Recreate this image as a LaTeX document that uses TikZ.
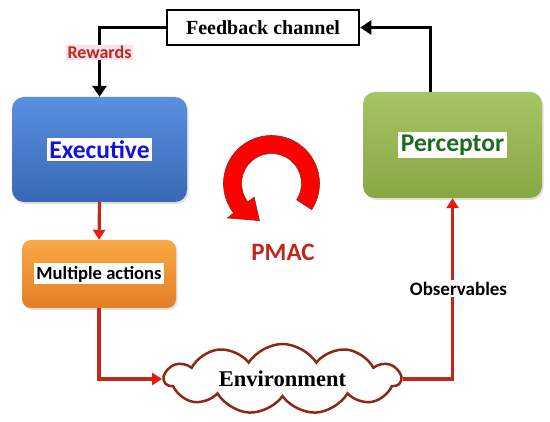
\documentclass[tikz,border=0pt]{standalone}
\usepackage{fontspec}
\setmainfont{Liberation Serif}
\newfontfamily\carlito{Carlito}
\usetikzlibrary{arrows.meta,shapes.symbols,shadows}
\definecolor{exectop}{HTML}{5A90E0}
\definecolor{execbot}{HTML}{3868B4}
\definecolor{perctop}{HTML}{A6C565}
\definecolor{percbot}{HTML}{86A842}
\definecolor{multtop}{HTML}{F9A846}
\definecolor{multbot}{HTML}{E47E26}
\definecolor{linered}{HTML}{C0281C}
\definecolor{headred}{HTML}{E81A14}
\definecolor{ringred}{HTML}{FF0000}
\definecolor{ringedge}{HTML}{8B2A14}
\definecolor{cloudedge}{HTML}{8B2A14}
\definecolor{rewpink}{HTML}{FBE0EE}
\definecolor{textblue}{HTML}{1414D2}
\definecolor{textgreen}{HTML}{1E6B1E}
\begin{document}
\begin{tikzpicture}[x=1pt,y=1pt,
  unit/.style={rounded corners=12pt,inner sep=0pt,
    drop shadow={opacity=0.25,shadow xshift=1.5pt,shadow yshift=-2pt}},
  tag/.style={fill=white,inner sep=2.5pt,font=\carlito\bfseries\fontsize{25.5}{28}\selectfont},
  fbline/.style={line width=3pt,-{Triangle[length=11pt,width=14pt]}},
  actline/.style={draw=linered,line width=3.2pt,-{Triangle[length=10pt,width=12pt,color=headred]}}]
\useasboundingbox (0,0) rectangle (550,422);

% units
\node[unit,minimum width=175pt,minimum height=105pt,top color=exectop,bottom color=execbot] (exec) at (99.5,272.5){};
\node[tag,text=textblue] (execlabel) at (exec.center){Executive};
\node[unit,minimum width=179pt,minimum height=106pt,top color=perctop,bottom color=percbot] (perc) at (452.5,277){};
\node[tag,text=textgreen] (perclabel) at (perc.center){Perceptor};
\node[unit,rounded corners=9pt,minimum width=154pt,minimum height=68pt,top color=multtop,bottom color=multbot] (multi) at (99,148){};
\node[tag,font=\carlito\bfseries\fontsize{18.6}{21}\selectfont] (multilabel) at (multi.center){Multiple actions};

% feedback and environment
\node[draw,line width=2.5pt,minimum width=192pt,minimum height=35pt,inner sep=0pt,
  font=\bfseries\fontsize{20}{24}\selectfont] (fb) at (263,394.5){Feedback channel};
\node[cloud,cloud puffs=11,cloud puff arc=115,cloud ignores aspect,draw=cloudedge,line width=2.5pt,fill=white,
  minimum width=236pt,minimum height=70pt,inner sep=0pt,
  font=\bfseries\fontsize{22.5}{26}\selectfont] (env) at (282.5,43){Environment};

% PMAC cycle
\begin{scope}[shift={(271.5,238.5)}]
\filldraw[fill=ringred,draw=ringedge,line width=0.6pt]
  (-33:48) arc[start angle=-33,end angle=218,radius=48]
  -- (218:56) -- (252:39) -- (218:22) -- (218:30)
  arc[start angle=218,end angle=-33,radius=30] -- cycle;
\end{scope}
\node[text=linered,font=\carlito\bfseries\fontsize{25}{28}\selectfont] (pmac) at (283,170){PMAC};

% connectors
\draw[fbline] ([xshift=-22.5pt]perc.north) |- (fb.east);
\draw[fbline] (fb.west) -| (exec.north)
  node[pos=0.68,fill=rewpink,inner sep=1.5pt,text=linered,
    font=\carlito\bfseries\fontsize{18}{20}\selectfont]{Rewards};
\draw[actline] (exec.south) -- (multi.north);
\draw[actline] (multi.south) |- (env.west);
\draw[actline] (env.east) -| (perc.south)
  node[pos=0.75,xshift=6pt,fill=white,inner sep=2pt,
    font=\carlito\bfseries\fontsize{19}{22}\selectfont]{Observables};

\end{tikzpicture}
\end{document}
